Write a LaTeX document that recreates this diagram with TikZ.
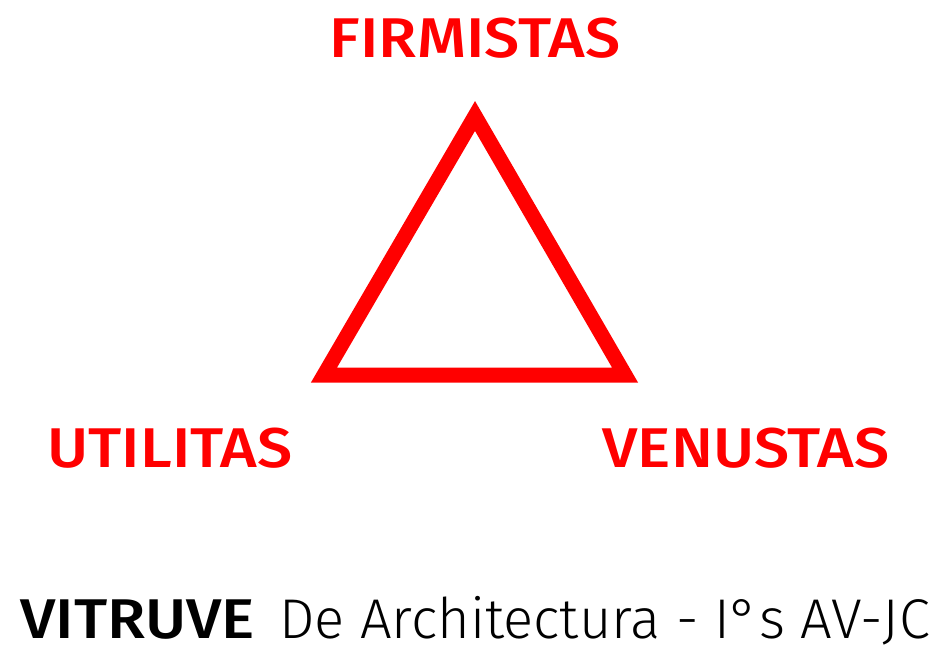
\documentclass[tikz,border=0pt]{standalone}
\usepackage{fontspec}
\setmainfont{Fira Sans}
\newfontfamily\lightfont{Fira Sans Light}
\newfontfamily\medfont[FakeStretch=1.12]{Fira Sans Medium}
\usetikzlibrary{positioning}
\definecolor{vitred}{RGB}{255,0,0}

\begin{document}
\begin{tikzpicture}[x=1pt, y=-1pt,
    label/.style={text=vitred, font=\fontsize{56}{60}\selectfont\medfont, inner sep=0pt, anchor=base}]
        \useasboundingbox (0,0) rectangle (949,663);
        % sommets du triangle
        \coordinate (S) at (475,116);
        \coordinate (G) at (324,375);
        \coordinate (D) at (625,375);
        \draw[vitred, line width=15pt, line join=miter] (S) -- (G) -- (D) -- cycle;

        % les trois notions
        \node[label] (firm) at (475,58) {FIRMISTAS};
        \node[label] (util) at (170,467) {UTILITAS};
        \node[label] (venu) at (746,467) {VENUSTAS};

        % titre
        \node[font=\fontsize{56}{60}\selectfont\medfont, inner sep=0pt, anchor=base west] (vitr) at (20,638) {VITRUVE};
        \node[font=\fontsize{56}{60}\selectfont\lightfont, inner sep=0pt, anchor=base east] (titre) at (930,638) {De Architectura - I°s AV-JC};
    \end{tikzpicture}
\end{document}
